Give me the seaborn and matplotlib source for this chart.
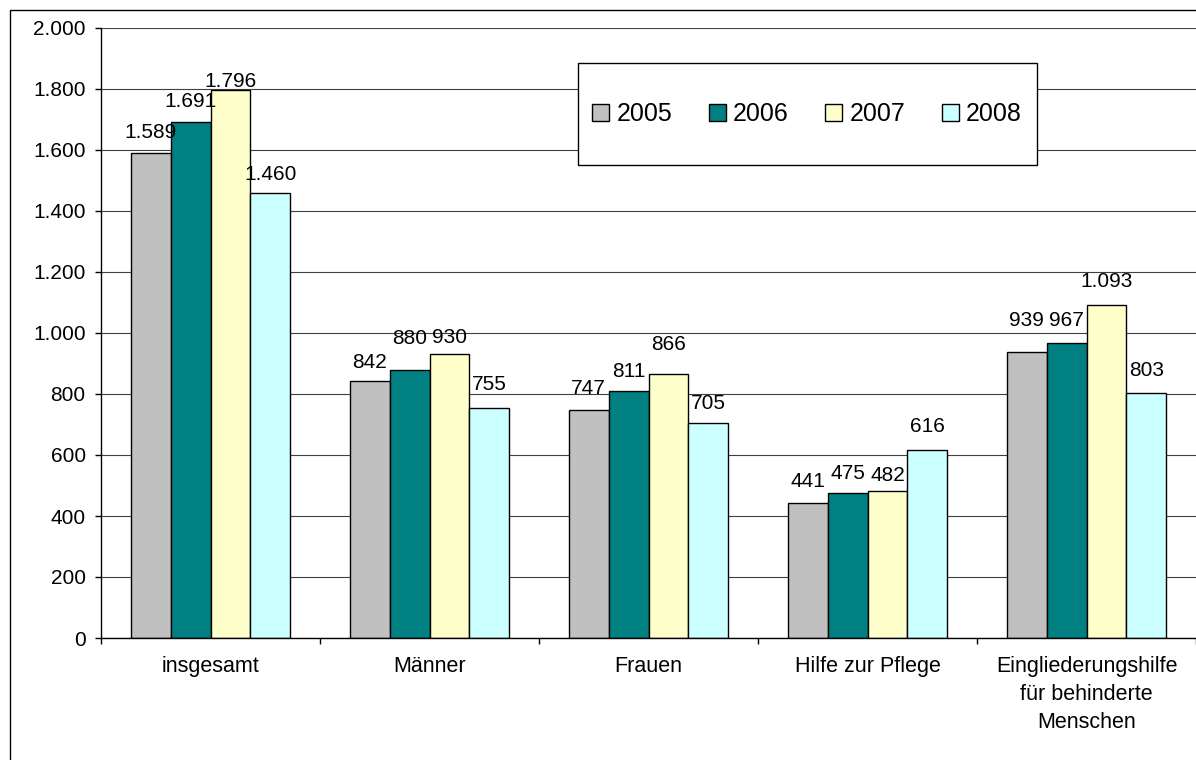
import matplotlib
matplotlib.use("Agg")
import matplotlib.pyplot as plt
from matplotlib.patches import Rectangle
import seaborn as sns
import pandas as pd

# ---- data ----
categories = ["insgesamt", "Männer", "Frauen", "Hilfe zur Pflege",
              "Eingliederungshilfe\nfür behinderte\nMenschen"]
years = ["2005", "2006", "2007", "2008"]
values_2005 = [1589, 842, 747, 441, 939]
values_2006 = [1691, 880, 811, 475, 967]
values_2007 = [1796, 930, 866, 482, 1093]
values_2008 = [1460, 755, 705, 616, 803]
y_ticks = [0, 200, 400, 600, 800, 1000, 1200, 1400, 1600, 1800, 2000]

# label offsets above bar tops (pixels, label centre) -- styling only
label_offsets = {
    "2005": [23, 20, 23, 24, 33],
    "2006": [22, 33, 21, 21, 24],
    "2007": [10, 19, 31, 17, 25],
    "2008": [20, 25, 21, 25, 24],
}

colors = ["#C0C0C0", "#008080", "#FFFFCC", "#CCFFFF"]

rows = []
for yr, vals in zip(years, [values_2005, values_2006, values_2007, values_2008]):
    for c, v in zip(categories, vals):
        rows.append({"Kategorie": c, "Jahr": yr, "Wert": v})
df = pd.DataFrame(rows)

sns.set_style("white")
plt.rcParams["font.family"] = ["Liberation Sans", "DejaVu Sans"]
plt.rcParams["text.color"] = "black"
plt.rcParams["xtick.color"] = "black"
plt.rcParams["ytick.color"] = "black"
plt.rcParams["axes.labelcolor"] = "black"

DPI = 100
fig = plt.figure(figsize=(11.96, 7.60), dpi=DPI)
ax = fig.add_axes([101 / 1196, 1 - 638 / 760, 1 - 101 / 1196, (638 - 28) / 760])

sns.barplot(data=df, x="Kategorie", y="Wert", hue="Jahr", order=categories,
            hue_order=years, palette=colors, width=0.73, edgecolor="black",
            linewidth=1.0, saturation=1, ax=ax, legend=False)

ax.set_xlim(-0.5, 4.5)
ax.set_ylim(0, 2000)
ax.set_axisbelow(True)
ax.yaxis.grid(True, color="#404040", linewidth=0.8)
ax.xaxis.grid(False)
for s in ["top", "right"]:
    ax.spines[s].set_visible(False)
for s in ["left", "bottom"]:
    ax.spines[s].set_color("black")
    ax.spines[s].set_linewidth(1.0)

FS = 15
ax.set_yticks(y_ticks)
ax.set_yticklabels([f"{v:,}".replace(",", ".") for v in y_ticks], fontsize=FS)
ax.tick_params(axis="y", which="major", direction="out", length=4, width=1,
               color="black", labelcolor="black", pad=7, left=True)

# category boundary ticks (major), labels on minor ticks at centres
ax.set_xticks([i - 0.5 for i in range(len(categories) + 1)])
ax.set_xticklabels([""] * (len(categories) + 1))
ax.set_xticks(range(len(categories)), minor=True)
ax.set_xticklabels(categories, minor=True, fontsize=15.5, linespacing=1.45)
ax.tick_params(axis="x", which="major", direction="out", length=4, width=1,
               color="black", bottom=True)
ax.tick_params(axis="x", which="minor", length=0, pad=13, labelcolor="black")
for t in ax.get_xticklabels(minor=True):
    t.set_verticalalignment("top")
ax.set_xlabel("")
ax.set_ylabel("")

# data labels
px2pt = 72.0 / DPI
for cont, yr in zip(ax.containers, years):
    for bar, off in zip(cont, label_offsets[yr]):
        h = bar.get_height()
        ax.annotate(f"{int(round(h)):,}".replace(",", "."),
                    xy=(bar.get_x() + bar.get_width() / 2, h),
                    xytext=(0, (off - 7.2) * px2pt), textcoords="offset points",
                    ha="center", va="baseline", fontsize=FS, color="black",
                    zorder=6)

# legend with separate frame
handles = [Rectangle((0, 0), 1, 1, facecolor=c, edgecolor="black", linewidth=1.0)
           for c in colors]
leg = ax.legend(handles, years, ncol=4, frameon=False, fontsize=18,
                loc="center", bbox_to_anchor=(0.6448, 0.859),
                handlelength=0.68, handleheight=0.68, handletextpad=0.3,
                columnspacing=1.45, labelcolor="black")
leg.set_zorder(6)
frame = Rectangle(((578 - 101) / 1095, (638 - 165) / 610),
                  (1037 - 578) / 1095, (165 - 63) / 610,
                  transform=ax.transAxes, facecolor="white", edgecolor="black",
                  linewidth=1.0, zorder=5, clip_on=False)
ax.add_patch(frame)

# outer chart border
fig.patches.append(Rectangle((10 / 1196, -0.05), 1.1, 1 - 10 / 760 + 0.05,
                             transform=fig.transFigure, fill=False,
                             edgecolor="black", linewidth=1.0))

fig.savefig("out.png", dpi=DPI)
